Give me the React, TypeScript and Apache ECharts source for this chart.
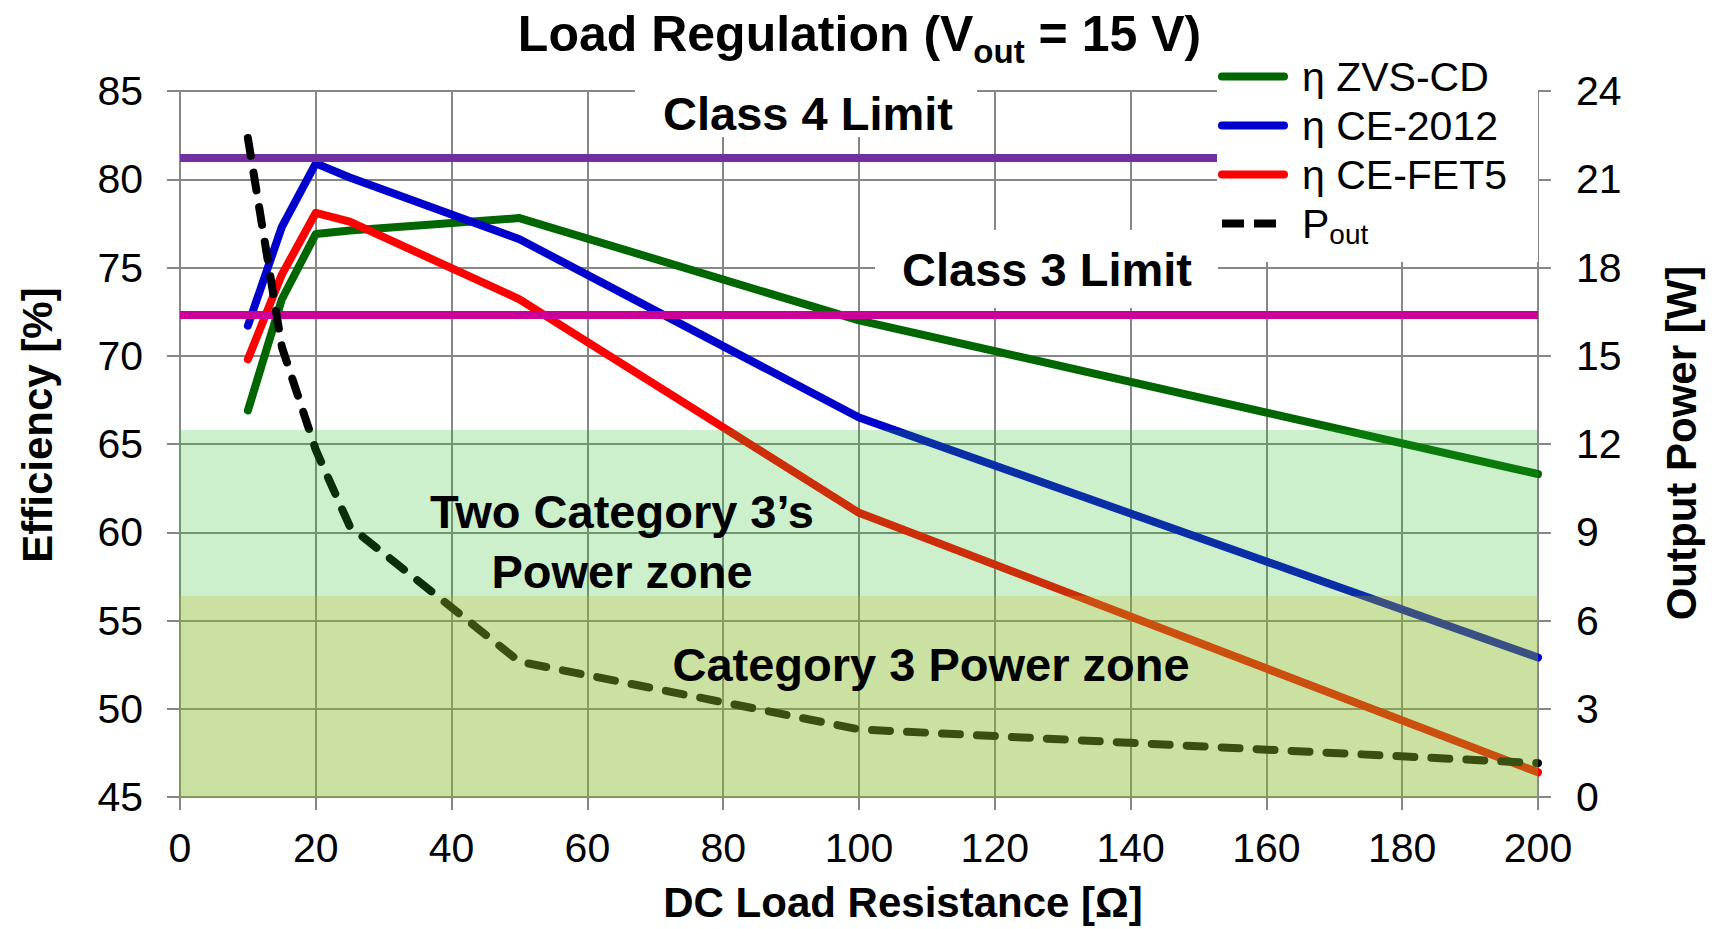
import React, { useEffect, useRef } from "react";
import * as echarts from "echarts";

const FONT = "'Liberation Sans', Arial, Helvetica, sans-serif";

// DC load resistance [Ω]
const resistance = [10, 15, 20, 25, 50, 100, 200];
// Efficiency [%]
const etaZvsCd = [66.9, 73.2, 76.9, 77.1, 77.8, 72.0, 63.3];
const etaCe2012 = [71.7, 77.3, 80.9, 80.1, 76.6, 66.5, 52.9];
const etaCeFet5 = [69.8, 74.6, 78.1, 77.6, 73.2, 61.1, 46.4];
// Output power [W]
const pOut = [22.4, 15.3, 11.8, 9.2, 4.6, 2.3, 1.15];

// Axis ranges
const xRange = { min: 0, max: 200, interval: 20 };
const effRange = { min: 45, max: 85, interval: 5 };
const powRange = { min: 0, max: 24, interval: 3 };

// Limits and zones (efficiency axis units)
const class4Limit = 81.2;
const class3Limit = 72.3;
const twoCat3Zone = [56.4, 65.8];
const cat3Zone = [45, 56.4];

const seriesNames = ["η ZVS-CD", "η CE-2012", "η CE-FET5", "Pout"];

const zip = (xs: number[], ys: number[]) => xs.map((x, i) => [x, ys[i]]);

const GRID_COLOR = "#878787";
const LW = 8;

export default function App() {
  const ref = useRef<HTMLDivElement>(null);

  useEffect(() => {
    if (!ref.current) return;
    const chart = echarts.init(ref.current, undefined, { renderer: "svg" });

    const axisCommon = {
      axisLine: { show: true, onZero: false, lineStyle: { color: GRID_COLOR, width: 2 } },
      axisTick: { show: true, length: 13, lineStyle: { color: GRID_COLOR, width: 2 } },
      axisLabel: { fontSize: 41, color: "#000", fontFamily: FONT },
    };

    const lineSeries = (name: string, color: string, data: number[][], extra: any = {}) => ({
      type: "line",
      name,
      data,
      symbol: "none",
      z: 2,
      lineStyle: { color, width: LW, cap: "round", join: "round" },
      itemStyle: { color },
      ...extra,
    });

    const option: any = {
      animation: false,
      title: {
        text: "{a|Load Regulation (V}{b|out}{a| = 15 V)}",
        left: "center",
        top: 0,
        padding: 0,
        textStyle: {
          rich: {
            a: { fontSize: 50, fontWeight: "bold", fontFamily: FONT, color: "#000", lineHeight: 68 },
            b: { fontSize: 33, fontWeight: "bold", fontFamily: FONT, color: "#000", lineHeight: 33, verticalAlign: "bottom" },
          },
        },
      },
      grid: { left: 180, right: 181, top: 91, bottom: 132, containLabel: false },
      legend: {
        data: [
          { name: seriesNames[0] },
          { name: seriesNames[1] },
          { name: seriesNames[2] },
          { name: seriesNames[3], lineStyle: { type: [22, 10], cap: "butt" } },
        ],
        orient: "vertical",
        left: 1218,
        top: 52,
        padding: 0,
        itemGap: 0,
        itemWidth: 62,
        itemHeight: 8,
        z: 12,
        lineStyle: { width: LW },
        itemStyle: { opacity: 0 },
        formatter: (name: string) => (name === "Pout" ? "{p|P}{s|out}" : name),
        textStyle: {
          fontFamily: FONT,
          fontSize: 41,
          color: "#000",
          lineHeight: 49,
          padding: [0, 0, 0, 13],
          rich: {
            p: { fontFamily: FONT, fontSize: 41, color: "#000", lineHeight: 49 },
            s: { fontFamily: FONT, fontSize: 28, color: "#000", lineHeight: 18, verticalAlign: "bottom" },
          },
        },
      },
      xAxis: {
        type: "value",
        ...xRange,
        ...axisCommon,
        axisLabel: { ...axisCommon.axisLabel, margin: 30 },
        splitLine: { show: true, lineStyle: { color: GRID_COLOR, width: 2 } },
      },
      yAxis: [
        {
          type: "value",
          position: "left",
          ...effRange,
          ...axisCommon,
          axisLabel: { ...axisCommon.axisLabel, margin: 37 },
          splitLine: { show: true, lineStyle: { color: GRID_COLOR, width: 2 } },
        },
        {
          type: "value",
          position: "right",
          ...powRange,
          ...axisCommon,
          axisLabel: { ...axisCommon.axisLabel, margin: 38 },
          splitLine: { show: false },
        },
      ],
      series: [
        lineSeries(seriesNames[0], "#006600", zip(resistance, etaZvsCd), {
          markLine: {
            silent: true,
            symbol: "none",
            z: 2.3,
            label: { show: false },
            data: [
              { yAxis: class4Limit, lineStyle: { color: "#7030A0", width: LW, type: "solid" } },
              { yAxis: class3Limit, lineStyle: { color: "#CC0099", width: LW, type: "solid" } },
            ],
          },
          markArea: {
            silent: true,
            z: 3,
            label: { show: false },
            data: [
              [
                { yAxis: twoCat3Zone[0], itemStyle: { color: "rgba(42,192,42,0.24)", opacity: 1 } },
                { yAxis: twoCat3Zone[1] },
              ],
              [
                { yAxis: cat3Zone[0], itemStyle: { color: "rgba(135,186,37,0.43)", opacity: 1 } },
                { yAxis: cat3Zone[1] },
              ],
            ],
          },
        }),
        lineSeries(seriesNames[1], "#0000CC", zip(resistance, etaCe2012)),
        lineSeries(seriesNames[2], "#FF0000", zip(resistance, etaCeFet5)),
        {
          type: "line",
          name: seriesNames[3],
          yAxisIndex: 1,
          data: zip(resistance, pOut),
          symbol: "none",
          z: 2.5,
          lineStyle: { color: "#000", width: LW, type: [18, 17], cap: "round", join: "round" },
          itemStyle: { color: "#000" },
        },
      ],
      graphic: [
        { type: "rect", silent: true, z: 8, shape: { x: 1217, y: 46, width: 321, height: 216 }, style: { fill: "#fff" } },
        { type: "rect", silent: true, z: 8, shape: { x: 635, y: 86, width: 342, height: 51 }, style: { fill: "#fff" } },
        { type: "rect", silent: true, z: 8, shape: { x: 875, y: 230, width: 343, height: 78 }, style: { fill: "#fff" } },
        txt("Class 4 Limit", 808, 113.5, 47),
        txt("Class 3 Limit", 1047, 269, 47),
        txt("Two Category 3’s", 622, 511.5, 47),
        txt("Power zone", 622, 571, 47),
        txt("Category 3 Power zone", 931, 664, 47),
        txt("DC Load Resistance [Ω]", 903, 902, 42),
        txt("Efficiency [%]", 37, 425, 42, Math.PI / 2),
        txt("Output Power [W]", 1681, 443, 42, Math.PI / 2),
      ],
    };

    chart.setOption(option);
    return () => chart.dispose();
  }, []);

  return (
    <div
      ref={ref}
      style={{ position: "fixed", left: 0, top: 0, width: 1719, height: 929, background: "#fff" }}
    />
  );
}

function txt(text: string, x: number, y: number, size: number, rotation = 0) {
  return {
    type: "text",
    silent: true,
    z: 11,
    x,
    y,
    rotation,
    style: {
      text,
      font: `bold ${size}px ${FONT}`,
      fill: "#000",
      align: "center",
      verticalAlign: "middle",
      textAlign: "center",
      textVerticalAlign: "middle",
    },
  };
}
